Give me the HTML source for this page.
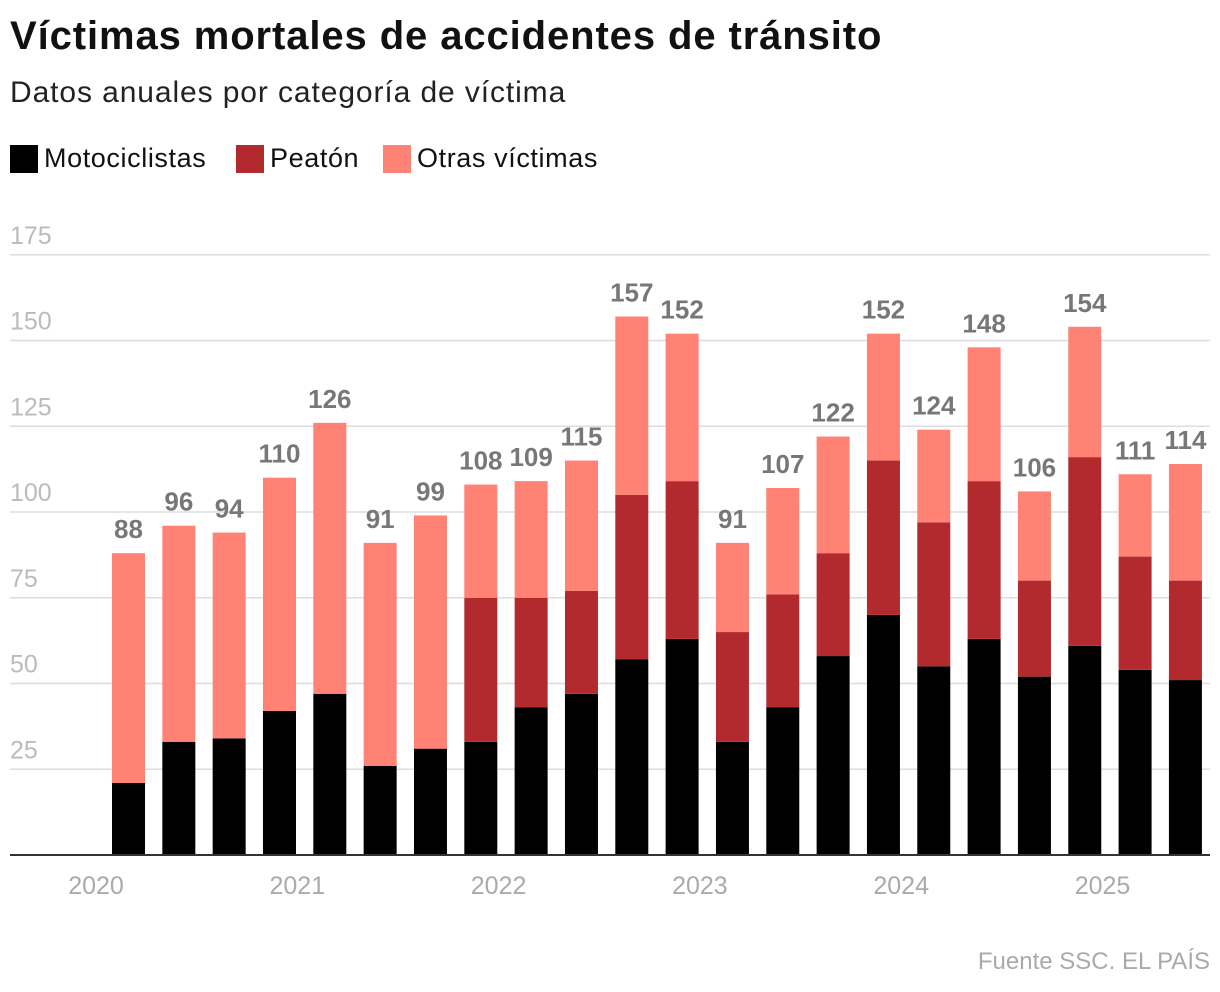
<!DOCTYPE html>
<html><head><meta charset="utf-8"><style>
body{margin:0;background:#fff;font-family:"Liberation Sans",sans-serif;}
.t{position:absolute;left:10px;top:14px;font-size:40px;font-weight:bold;color:#111;letter-spacing:0.9px}
.s{position:absolute;left:10px;top:76px;font-size:30px;color:#222;letter-spacing:0.9px}
.lg{position:absolute;top:143px;font-size:27px;color:#111;display:flex;align-items:center;letter-spacing:0.6px}
.sw{width:28px;height:28px;display:inline-block;margin-right:6px}
.src{position:absolute;right:10px;top:948px;font-size:24px;color:#aaa}
</style></head><body>
<div class="t">Víctimas mortales de accidentes de tránsito</div>
<div class="s">Datos anuales por categoría de víctima</div>
<div class="lg" style="left:10px"><span class="sw" style="background:#000"></span>Motociclistas</div>
<div class="lg" style="left:236px"><span class="sw" style="background:#b32a2e"></span>Peatón</div>
<div class="lg" style="left:383px"><span class="sw" style="background:#ff8274"></span>Otras víctimas</div>
<svg id="c" width="1220" height="992" style="position:absolute;left:0;top:0"></svg>
<div class="src">Fuente SSC. EL PAÍS</div>
<script>
const totals=[88,96,94,110,126,91,99,108,109,115,157,152,91,107,122,152,124,148,106,154,111,114];
const moto=[21,33,34,42,47,26,31,33,43,47,57,63,33,43,58,70,55,63,52,61,54,51];
const peaton=[0,0,0,0,0,0,0,42,32,30,48,46,32,33,30,45,42,46,28,55,33,29];
const yTicks=[25,50,75,100,125,150,175];
const years=["2020","2021","2022","2023","2024","2025"];
const svg=document.getElementById('c');const NS='http://www.w3.org/2000/svg';
const y=v=>855-v*3.43;const x=i=>112+i*50.33;const bw=33;
function el(t,a){const e=document.createElementNS(NS,t);for(const k in a)e.setAttribute(k,a[k]);svg.appendChild(e);return e;}
yTicks.forEach(v=>{
const g=el('line',{x1:10,x2:1210,y1:y(v),y2:y(v),stroke:'#ddd','stroke-width':1.5});


const t=el('text',{x:10,y:y(v)-11,'font-size':25,fill:'#bbb'});t.textContent=v;


});
totals.forEach((tot,i)=>{
const m=moto[i],p=peaton[i];
const segs=[[0,m,'#000','bar-motociclistas'],[m,m+p,'#b32a2e','bar-peaton'],[m+p,tot,'#ff8274','bar-otras']];
segs.forEach(s=>{if(s[1]>s[0]){const r=el('rect',{x:x(i),y:y(s[1]),width:bw,height:y(s[0])-y(s[1]),fill:s[2]});

}});
const l=el('text',{x:x(i)+bw/2,y:y(tot)-15,'font-size':26,'font-weight':'bold',fill:'#777','text-anchor':'middle'});l.textContent=tot;


});
const ax=el('line',{x1:10,x2:1210,y1:855,y2:855,stroke:'#333','stroke-width':2});


years.forEach((yr,k)=>{const t=el('text',{x:96+k*201.3,y:894,'font-size':25,fill:'#aaa','text-anchor':'middle'});t.textContent=yr;

});
</script>
</body></html>
